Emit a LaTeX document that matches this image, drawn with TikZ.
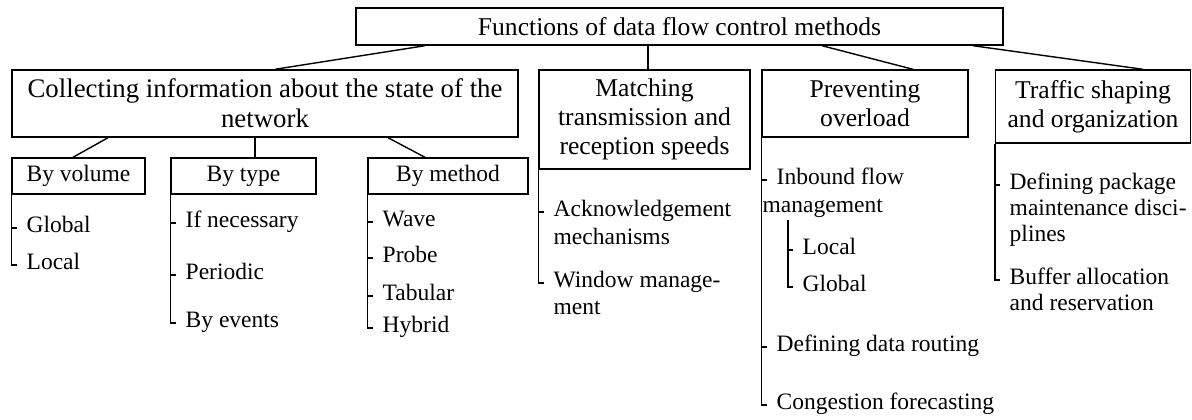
\documentclass[tikz,border=0pt]{standalone}
\usepackage{fontspec}
\setmainfont{Liberation Serif}
\begin{document}
\begin{tikzpicture}[x=0.5pt,y=-0.5pt, line width=0.7pt,
  box/.style={draw, inner sep=0pt, align=center, font=\fontsize{12.8}{14.5}\selectfont},
  sbox/.style={draw, inner sep=0pt, align=center, minimum height=18pt, font=\fontsize{11.75}{13.5}\selectfont},
  leaf/.style={inner sep=0pt, anchor=mid west, font=\fontsize{11.75}{13.5}\selectfont}]
\useasboundingbox (0,0) rectangle (1192,419);

% level 0
\node[box, minimum width=323.5pt, minimum height=18.5pt] (top) at (679.5,26.5) {Functions of data flow control methods};
% level 1
\node[box, minimum width=253pt, minimum height=33.5pt, font=\fontsize{13.4}{15}\selectfont] (coll) at (265,103.5) {Collecting information about the state of the\\network};
\node[box, minimum width=105.5pt, minimum height=49.5pt] (match) at (644.5,119.5) {Matching\\transmission and\\reception speeds};
\node[box, minimum width=103pt, minimum height=33.5pt] (prev) at (865,103.5) {Preventing\\overload};
\node[box, minimum width=97.5pt, minimum height=36.5pt] (traf) at (1093,106.5) {Traffic shaping\\and organization};
% level 2
\node[sbox, minimum width=66.5pt] (vol) at (78.5,176) {By volume};
\node[sbox, minimum width=72.5pt] (type) at (243.5,176) {By type};
\node[sbox, minimum width=80pt] (meth) at (448,176) {By method};

% connectors level 0 -> 1
\draw ([xshift=-127.25pt]top.south) -- ([xshift=5pt]coll.north);
\draw ([xshift=-15.75pt]top.south) -- ([xshift=1.75pt]match.north);
\draw ([xshift=71.25pt]top.south) -- ([xshift=24pt]prev.north);
\draw ([xshift=146.75pt]top.south) -- ([xshift=25pt]traf.north);
% connectors level 1 -> 2
\draw ([xshift=-78.5pt]coll.south) -- ([xshift=-2.75pt]vol.north);
\draw ([xshift=-5pt]coll.south) -- ([xshift=5.75pt]type.north);
\draw ([xshift=61.5pt]coll.south) -- ([xshift=-11.5pt]meth.north);

% leaves: By volume
\node[leaf] (glob) at (26,228) {Global};
\node[leaf] (loc) at (26,265) {Local};
\draw (vol.south west) |- ([xshift=-4.5pt]loc.mid west);
\draw ([xshift=-7pt]glob.mid west) -- ([xshift=-4.5pt]glob.mid west);

% leaves: By type
\node[leaf] (ifn) at (185,223) {If necessary};
\node[leaf] (per) at (185,275) {Periodic};
\node[leaf] (bye) at (185,323) {By events};
\draw (type.south west) |- ([xshift=-4.5pt]bye.mid west);
\foreach \n in {ifn,per} \draw ([xshift=-7pt]\n.mid west) -- ([xshift=-4.5pt]\n.mid west);

% leaves: By method
\node[leaf] (wave) at (382,222) {Wave};
\node[leaf] (probe) at (382,258) {Probe};
\node[leaf] (tab) at (382,296) {Tabular};
\node[leaf] (hyb) at (382,328) {Hybrid};
\draw (meth.south west) |- ([xshift=-4.5pt]hyb.mid west);
\foreach \n in {wave,probe,tab} \draw ([xshift=-7pt]\n.mid west) -- ([xshift=-4.5pt]\n.mid west);

% leaves: Matching
\node[leaf] (ack) at (553,212) {Acknowledgement};
\node[leaf] (ack2) at (553,240) {mechanisms};
\node[leaf] (win) at (553,283) {Window manage-};
\node[leaf] (win2) at (553,310) {ment};
\draw (match.south west) |- ([xshift=-4.5pt]win.mid west);
\draw ([xshift=-7pt]ack.mid west) -- ([xshift=-4.5pt]ack.mid west);

% leaves: Preventing
\node[leaf] (inb) at (776,180) {Inbound flow};
\node[leaf] (inb2) at (762,208) {management};
\node[leaf] (ploc) at (802,250) {Local};
\node[leaf] (pglob) at (802,287) {Global};
\node[leaf] (route) at (776,347) {Defining data routing};
\node[leaf] (cong) at (776,405) {Congestion forecasting};
\draw (prev.south west) |- ([xshift=-4.5pt]cong.mid west);
\foreach \n in {inb,route} \draw ([xshift=-7pt]\n.mid west) -- ([xshift=-4.5pt]\n.mid west);
\draw ([xshift=13pt,yshift=-1pt]inb2.south west) |- ([xshift=-4.5pt]pglob.mid west);
\draw ([xshift=-7pt]ploc.mid west) -- ([xshift=-4.5pt]ploc.mid west);

% leaves: Traffic
\node[leaf] (def) at (1009,185) {Defining package};
\node[leaf] (def2) at (1009,211) {maintenance disci-};
\node[leaf] (def3) at (1009,237) {plines};
\node[leaf] (buf) at (1009,280) {Buffer allocation};
\node[leaf] (buf2) at (1009,306) {and reservation};
\draw (traf.south west) |- ([xshift=-4.5pt]buf.mid west);
\draw ([xshift=-7pt]def.mid west) -- ([xshift=-4.5pt]def.mid west);
\end{tikzpicture}
\end{document}
